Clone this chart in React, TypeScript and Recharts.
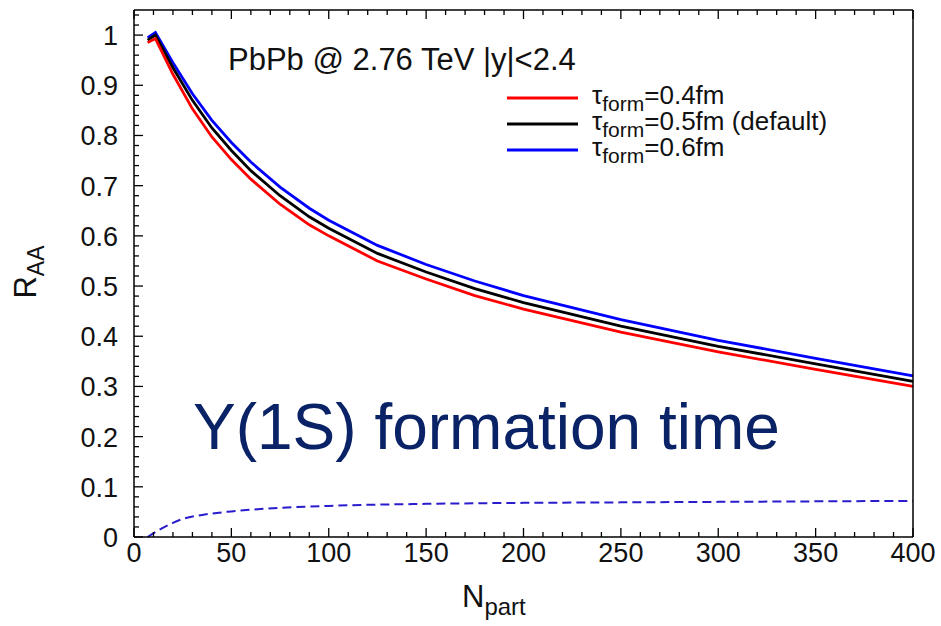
import React from 'react';
import { LineChart, Line, XAxis, YAxis } from 'recharts';

// N_part sampling points for the three R_AA curves
const nPart = [7, 11, 20, 30, 40, 50, 60, 75, 90, 100, 125, 150, 175, 200, 250, 300, 350, 400];
const raaTau04 = [0.985, 0.993, 0.922, 0.853, 0.797, 0.752, 0.713, 0.663, 0.622, 0.6, 0.55, 0.514, 0.481, 0.454, 0.408, 0.369, 0.334, 0.3];
const raaTau05 = [0.99, 1.0, 0.935, 0.87, 0.815, 0.77, 0.73, 0.68, 0.638, 0.615, 0.565, 0.528, 0.495, 0.467, 0.42, 0.38, 0.345, 0.31];
const raaTau06 = [0.995, 1.005, 0.945, 0.883, 0.83, 0.786, 0.747, 0.697, 0.655, 0.631, 0.581, 0.543, 0.51, 0.481, 0.433, 0.392, 0.356, 0.321];

// dashed curve near the bottom
const nPartDash = [7, 12, 20, 25, 35, 50, 75, 100, 150, 200, 250, 300, 400];
const raaDash = [0, 0.012, 0.028, 0.036, 0.044, 0.051, 0.058, 0.062, 0.066, 0.068, 0.069, 0.07, 0.072];

const xMajor = [0, 50, 100, 150, 200, 250, 300, 350, 400];
const yMajor = [0, 0.1, 0.2, 0.3, 0.4, 0.5, 0.6, 0.7, 0.8, 0.9, 1];
const yLabels = ['0', '0.1', '0.2', '0.3', '0.4', '0.5', '0.6', '0.7', '0.8', '0.9', '1'];

const legendItems = [
  { label: '=0.4fm', color: '#ff0000' },
  { label: '=0.5fm (default)', color: '#000000' },
  { label: '=0.6fm', color: '#0000ff' },
];

const xTicks = Array.from({ length: 41 }, (_, i) => i * 10);
const yTicks = Array.from({ length: 53 }, (_, i) => Math.round(i * 2) / 100);

const curveData = nPart.map((n, i) => ({ n, a: raaTau04[i], b: raaTau05[i], c: raaTau06[i] }));
const dashData = nPartDash.map((n, i) => ({ n, d: raaDash[i] }));

const FONT = '"Liberation Sans", Arial, sans-serif';

const isXMajor = (v: number) => xMajor.includes(v);
const yMajorIndex = (v: number) => yMajor.findIndex((m) => Math.abs(m - v) < 1e-6);

const BottomTick = (props: any) => {
  const { x, y, payload } = props;
  const major = isXMajor(payload.value);
  return (
    <g>
      <line x1={x} y1={y} x2={x} y2={y - (major ? 9 : 5)} stroke="#000" strokeWidth={1.3} />
      {major && (
        <text x={x} y={y + 25} textAnchor="middle" fontSize={27} fontFamily={FONT} fill="#111">
          {payload.value}
        </text>
      )}
    </g>
  );
};

const TopTick = (props: any) => {
  const { x, y, payload } = props;
  const major = isXMajor(payload.value);
  return <line x1={x} y1={y} x2={x} y2={y + (major ? 9 : 5)} stroke="#000" strokeWidth={1.3} />;
};

const LeftTick = (props: any) => {
  const { x, y, payload } = props;
  const idx = yMajorIndex(payload.value);
  const major = idx >= 0;
  return (
    <g>
      <line x1={x} y1={y} x2={x + (major ? 9 : 5)} y2={y} stroke="#000" strokeWidth={1.3} />
      {major && (
        <text x={x - 16} y={y + 10} textAnchor="end" fontSize={27} fontFamily={FONT} fill="#111">
          {yLabels[idx]}
        </text>
      )}
    </g>
  );
};

const RightTick = (props: any) => {
  const { x, y, payload } = props;
  const major = yMajorIndex(payload.value) >= 0;
  return <line x1={x} y1={y} x2={x - (major ? 9 : 5)} y2={y} stroke="#000" strokeWidth={1.3} />;
};

const axisLine = { stroke: '#000', strokeWidth: 1.5 };

export default function App() {
  return (
    <div style={{ position: 'absolute', left: 0, top: 0, width: 941, height: 626, background: '#fff' }}>
      <LineChart
        width={941}
        height={626}
        data={curveData}
        margin={{ top: 9, right: 27, bottom: 88, left: 133 }}
      >
        <XAxis
          xAxisId="b"
          dataKey="n"
          type="number"
          domain={[0, 400]}
          ticks={xTicks}
          interval={0}
          height={1}
          tickSize={0}
          tickMargin={0}
          tickLine={false}
          axisLine={axisLine}
          tick={<BottomTick />}
        />
        <XAxis
          xAxisId="t"
          orientation="top"
          dataKey="n"
          type="number"
          domain={[0, 400]}
          ticks={xTicks}
          interval={0}
          height={1}
          tickSize={0}
          tickMargin={0}
          tickLine={false}
          axisLine={axisLine}
          tick={<TopTick />}
        />
        <YAxis
          yAxisId="l"
          type="number"
          domain={[0, 1.05]}
          ticks={yTicks}
          interval={0}
          width={1}
          tickSize={0}
          tickMargin={0}
          tickLine={false}
          axisLine={axisLine}
          tick={<LeftTick />}
        />
        <YAxis
          yAxisId="r"
          orientation="right"
          type="number"
          domain={[0, 1.05]}
          ticks={yTicks}
          interval={0}
          width={1}
          tickSize={0}
          tickMargin={0}
          tickLine={false}
          axisLine={axisLine}
          tick={<RightTick />}
        />
        <Line xAxisId="b" yAxisId="l" data={dashData} dataKey="d" type="monotone" stroke="#2a1ccc" strokeWidth={2} strokeDasharray="9 5" dot={false} isAnimationActive={false} />
        <Line xAxisId="b" yAxisId="l" dataKey="c" type="linear" stroke="#0000ff" strokeWidth={2.8} dot={false} isAnimationActive={false} />
        <Line xAxisId="b" yAxisId="l" dataKey="b" type="linear" stroke="#000000" strokeWidth={2.8} dot={false} isAnimationActive={false} />
        <Line xAxisId="b" yAxisId="l" dataKey="a" type="linear" stroke="#ff0000" strokeWidth={2.8} dot={false} isAnimationActive={false} />
      </LineChart>
      <svg width={941} height={626} style={{ position: 'absolute', left: 0, top: 0, pointerEvents: 'none' }}>
        <text x={228} y={70} fontSize={31} fontFamily={FONT} fill="#111">
          PbPb @ 2.76 TeV |y|&lt;2.4
        </text>
        {legendItems.map((item, i) => (
          <g key={item.label}>
            <line x1={507} x2={578} y1={98 + 26 * i} y2={98 + 26 * i} stroke={item.color} strokeWidth={2.8} />
            <text x={592} y={104 + 26 * i} fontSize={26} fontFamily={FONT} fill="#111">
              τ
              <tspan dy={7} fontSize={21}>form</tspan>
              <tspan dy={-7} fontSize={26}>{item.label}</tspan>
            </text>
          </g>
        ))}
        <text x={193} y={449} fontSize={64} fontFamily={FONT} fill="#0a2266">
          Y(1S) formation time
        </text>
        <text x={36} y={272} fontSize={31} fontFamily={FONT} fill="#111" textAnchor="middle" transform="rotate(-90 36 272)">
          R<tspan dy={8} fontSize={23}>AA</tspan>
        </text>
        <text x={462} y={607} fontSize={31} fontFamily={FONT} fill="#111">
          N<tspan dy={8} fontSize={24}>part</tspan>
        </text>
      </svg>
    </div>
  );
}
